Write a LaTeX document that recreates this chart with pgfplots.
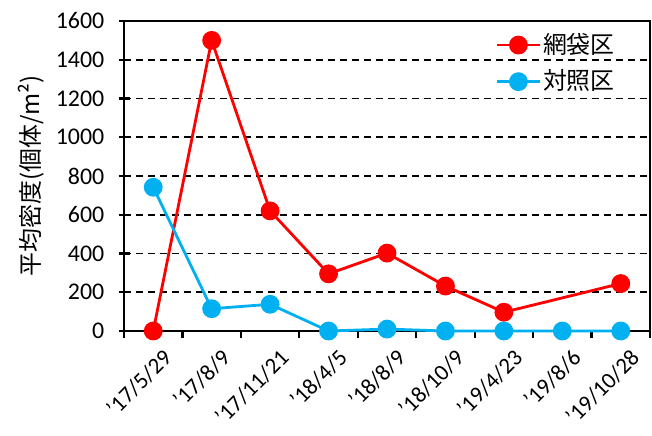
\documentclass[border=0pt]{standalone}
\usepackage{pgfplots}
\pgfplotsset{compat=1.18}
\usepackage{fontspec}
\setmainfont{Carlito}
\newfontfamily\cjk{Noto Sans CJK JP}
\definecolor{myred}{RGB}{255,0,0}
\definecolor{myblue}{RGB}{0,176,240}
\begin{document}
\fontsize{24}{28}\selectfont
\begin{tikzpicture}
\begin{axis}[
  name=ax,
  scale only axis, width=526bp, height=310bp,
  xmin=-0.5, xmax=8.5, ymin=0, ymax=1600,
  ytick={0,200,...,1600},
  xtick={0,...,8},
  minor xtick={-0.5,0.5,1.5,2.5,3.5,4.5,5.5,6.5,7.5,8.5},
  xticklabels={'17/5/29,'17/8/9,'17/11/21,'18/4/5,'18/8/9,'18/10/9,'19/4/23,'19/8/6,'19/10/28},
  xtick pos=bottom, ytick pos=left, tick align=center,
  major tick length=11bp, minor tick length=7bp,
  major x tick style={draw=none},
  minor x tick style={black, line width=2.2bp, yshift=-3.5bp},
  major y tick style={black, line width=2.2bp},
  ymajorgrids, y grid style={dash pattern=on 7bp off 5bp, black, line width=1.6bp},
  axis line style={line width=2.4bp},
  x tick label style={rotate=45, anchor=north east, font=\fontsize{23}{27}\selectfont, yshift=-6bp, xshift=6bp},
  y tick label style={font=\fontsize{24}{28}\selectfont, xshift=-6bp},
  /pgf/number format/assume math mode=true,
  /pgf/number format/1000 sep={},
  ylabel={\cjk 平均密度(個体/m²)},
  ylabel style={font=\fontsize{24}{28}\selectfont, yshift=-4bp},
  clip=false,
  legend style={at={(1,1)}, anchor=north east, xshift=-30bp, yshift=-8bp, draw=none, fill=none,
    font=\fontsize{24}{28}\selectfont\cjk, row sep=9bp},
  legend cell align=left,
  legend image code/.code={\draw[mark repeat=2,mark phase=2] plot coordinates {(0cm,0cm) (0.75cm,0cm) (1.5cm,0cm)};},
]
\addplot[myred, line width=2.8bp, mark=*, mark size=8bp, mark options={solid, fill=myred}]
  coordinates {(0,0) (1,1500) (2,620) (3,295) (4,402) (5,232) (6,97) (8,245)};
\addlegendentry{網袋区}
\addplot[myblue, line width=2.8bp, mark=*, mark size=8bp, mark options={solid, fill=myblue}]
  coordinates {(0,742) (1,115) (2,138) (3,0) (4,10) (5,0) (6,0) (7,0) (8,0)};
\addlegendentry{対照区}
\end{axis}
\pgfresetboundingbox
\path ([xshift=-124bp, yshift=-104bp]ax.south west) rectangle ([xshift=2bp, yshift=21bp]ax.north east);
\end{tikzpicture}
\end{document}
